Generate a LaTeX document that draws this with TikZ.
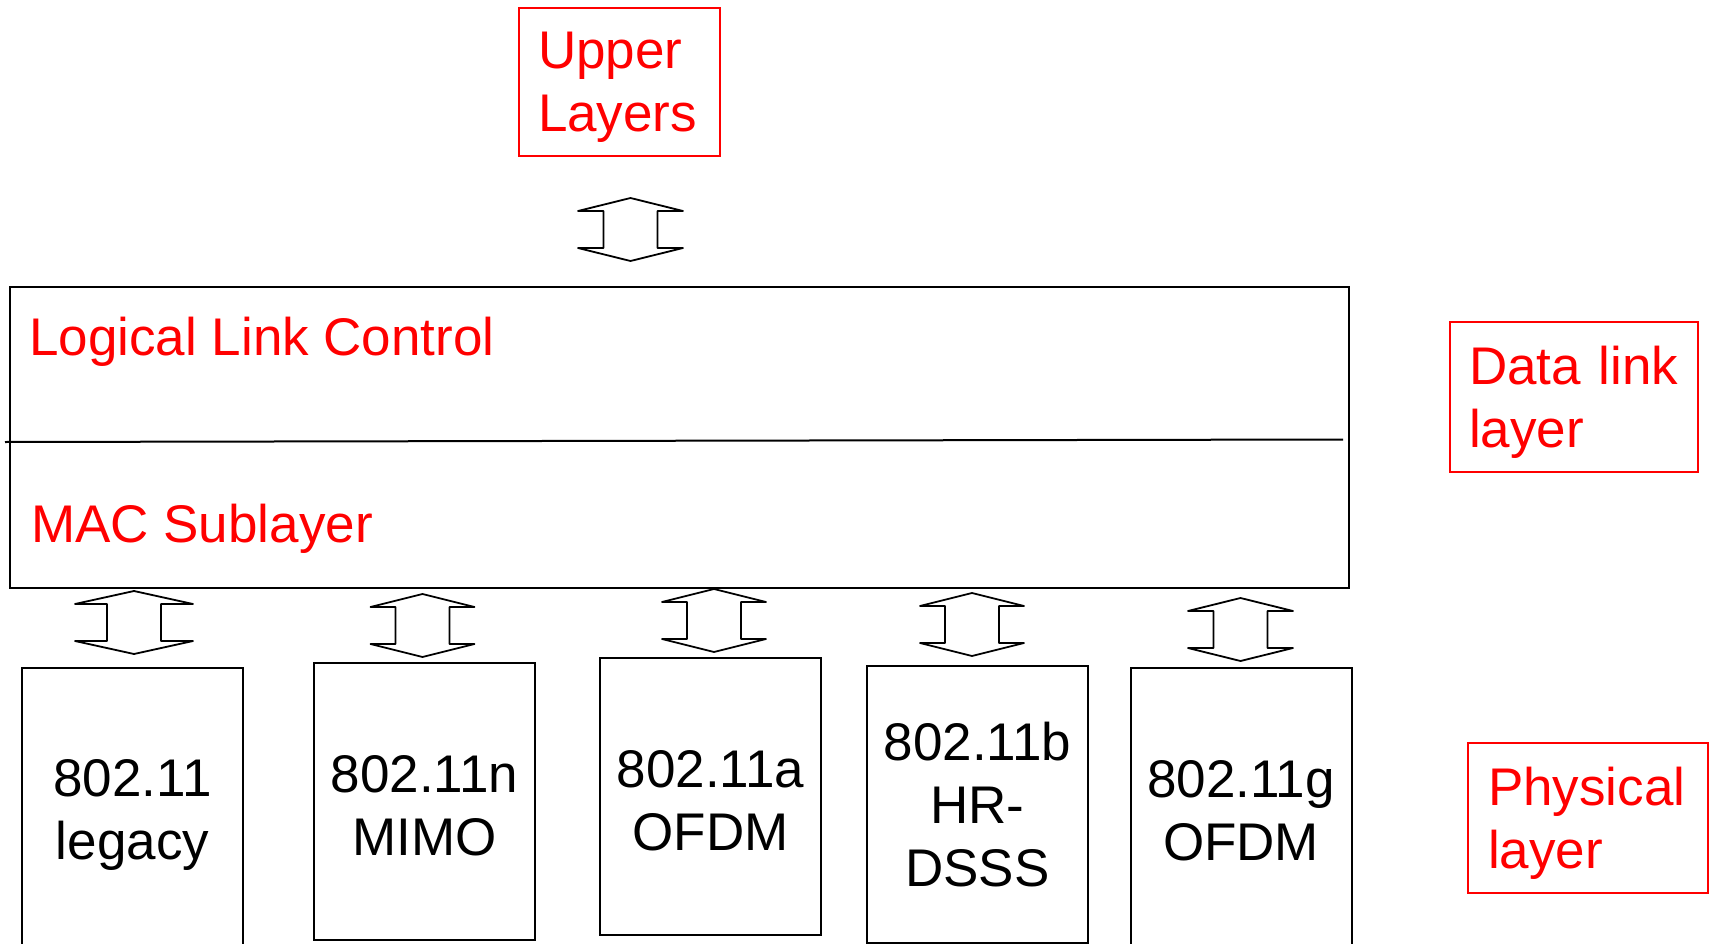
\documentclass[tikz,border=0pt]{standalone}
\usepackage{fontspec}
\setmainfont{Liberation Sans}
\usepackage{tikz}
\usetikzlibrary{positioning, calc}
\newcommand{\layerfont}{\fontsize{53pt}{63pt}\selectfont}
\tikzset{
	bigbox/.style={rectangle, draw=black, line width=2pt, minimum width=1339pt, minimum height=301pt, inner sep=0pt},
	phybox/.style={rectangle, draw=black, line width=2pt, minimum width=221pt, minimum height=277pt, align=center, font=\layerfont, text=black},
	redbox/.style={rectangle, draw=red, line width=2pt, align=left, text=red, font=\layerfont, inner ysep=0pt},
	redtext/.style={text=red, font=\layerfont, inner sep=0pt, anchor=base west},
	arrowline/.style={draw=black, line width=1.8pt, line join=round, fill=white},
	% hollow up-down block arrow, #1 = half width of the heads
	pics/updown/.style={code={
		\draw[arrowline] (0,0) -- (-#1,13) -- (-27,13) -- (-27,50) -- (-#1,50) -- (0,63)
			-- (#1,50) -- (27,50) -- (27,13) -- (#1,13) -- cycle;
	}},
}

\begin{document}
\begin{tikzpicture}[x=1pt, y=-1pt]
	\useasboundingbox (0,0) rectangle (1710,944);
	\clip (0,0) rectangle (1710,944);

	% upper layers
	\node[redbox, inner xsep=19pt, text width=163pt, minimum height=148pt] (upper) at (619.5,82) {\rule{0pt}{48pt}Upper\\Layers};
	\pic (uparrow) at (630.5,198) {updown=52.5};

	% data link layer
	\node[bigbox] (dll) at (679.5,437.5) {};
	\draw[line width=2pt] (5,442) -- (1343,439.5);
	\node[redtext] (llc) at (29,355) {Logical Link Control};
	\node[redtext] (mac) at (31,542) {MAC Sublayer};
	\node[redbox, inner xsep=19pt, text width=210pt, minimum height=150pt] (dlname) at (1574,397) {\rule{0pt}{48pt}Data link\\layer};

	% physical layers
	\foreach \n/\bx/\by/\ax/\ay/\aw/\txt in {
		1/132.5/806.5/134/591/59/{\rule{0pt}{54pt}802.11\\legacy},
		2/424.5/801.5/422.5/594/52/{\rule{0pt}{46pt}802.11n\\MIMO},
		3/710.5/796.5/714/589/52/{\rule{0pt}{46pt}802.11a\\OFDM},
		4/977.5/804.5/972/593/52/{802.11b\\HR-\\DSSS},
		5/1241/806.5/1240.5/598/52.5/{\rule{0pt}{46pt}802.11g\\OFDM}} {
		\pic (arrow\n) at (\ax,\ay) {updown=\aw};
		\node[phybox] (phy\n) at (\bx,\by) {\txt};
	}
	\node[redbox, inner xsep=20pt, text width=200pt, minimum height=150pt] (phyname) at (1588,818) {\rule{0pt}{48pt}Physical\\layer};
\end{tikzpicture}
\end{document}
